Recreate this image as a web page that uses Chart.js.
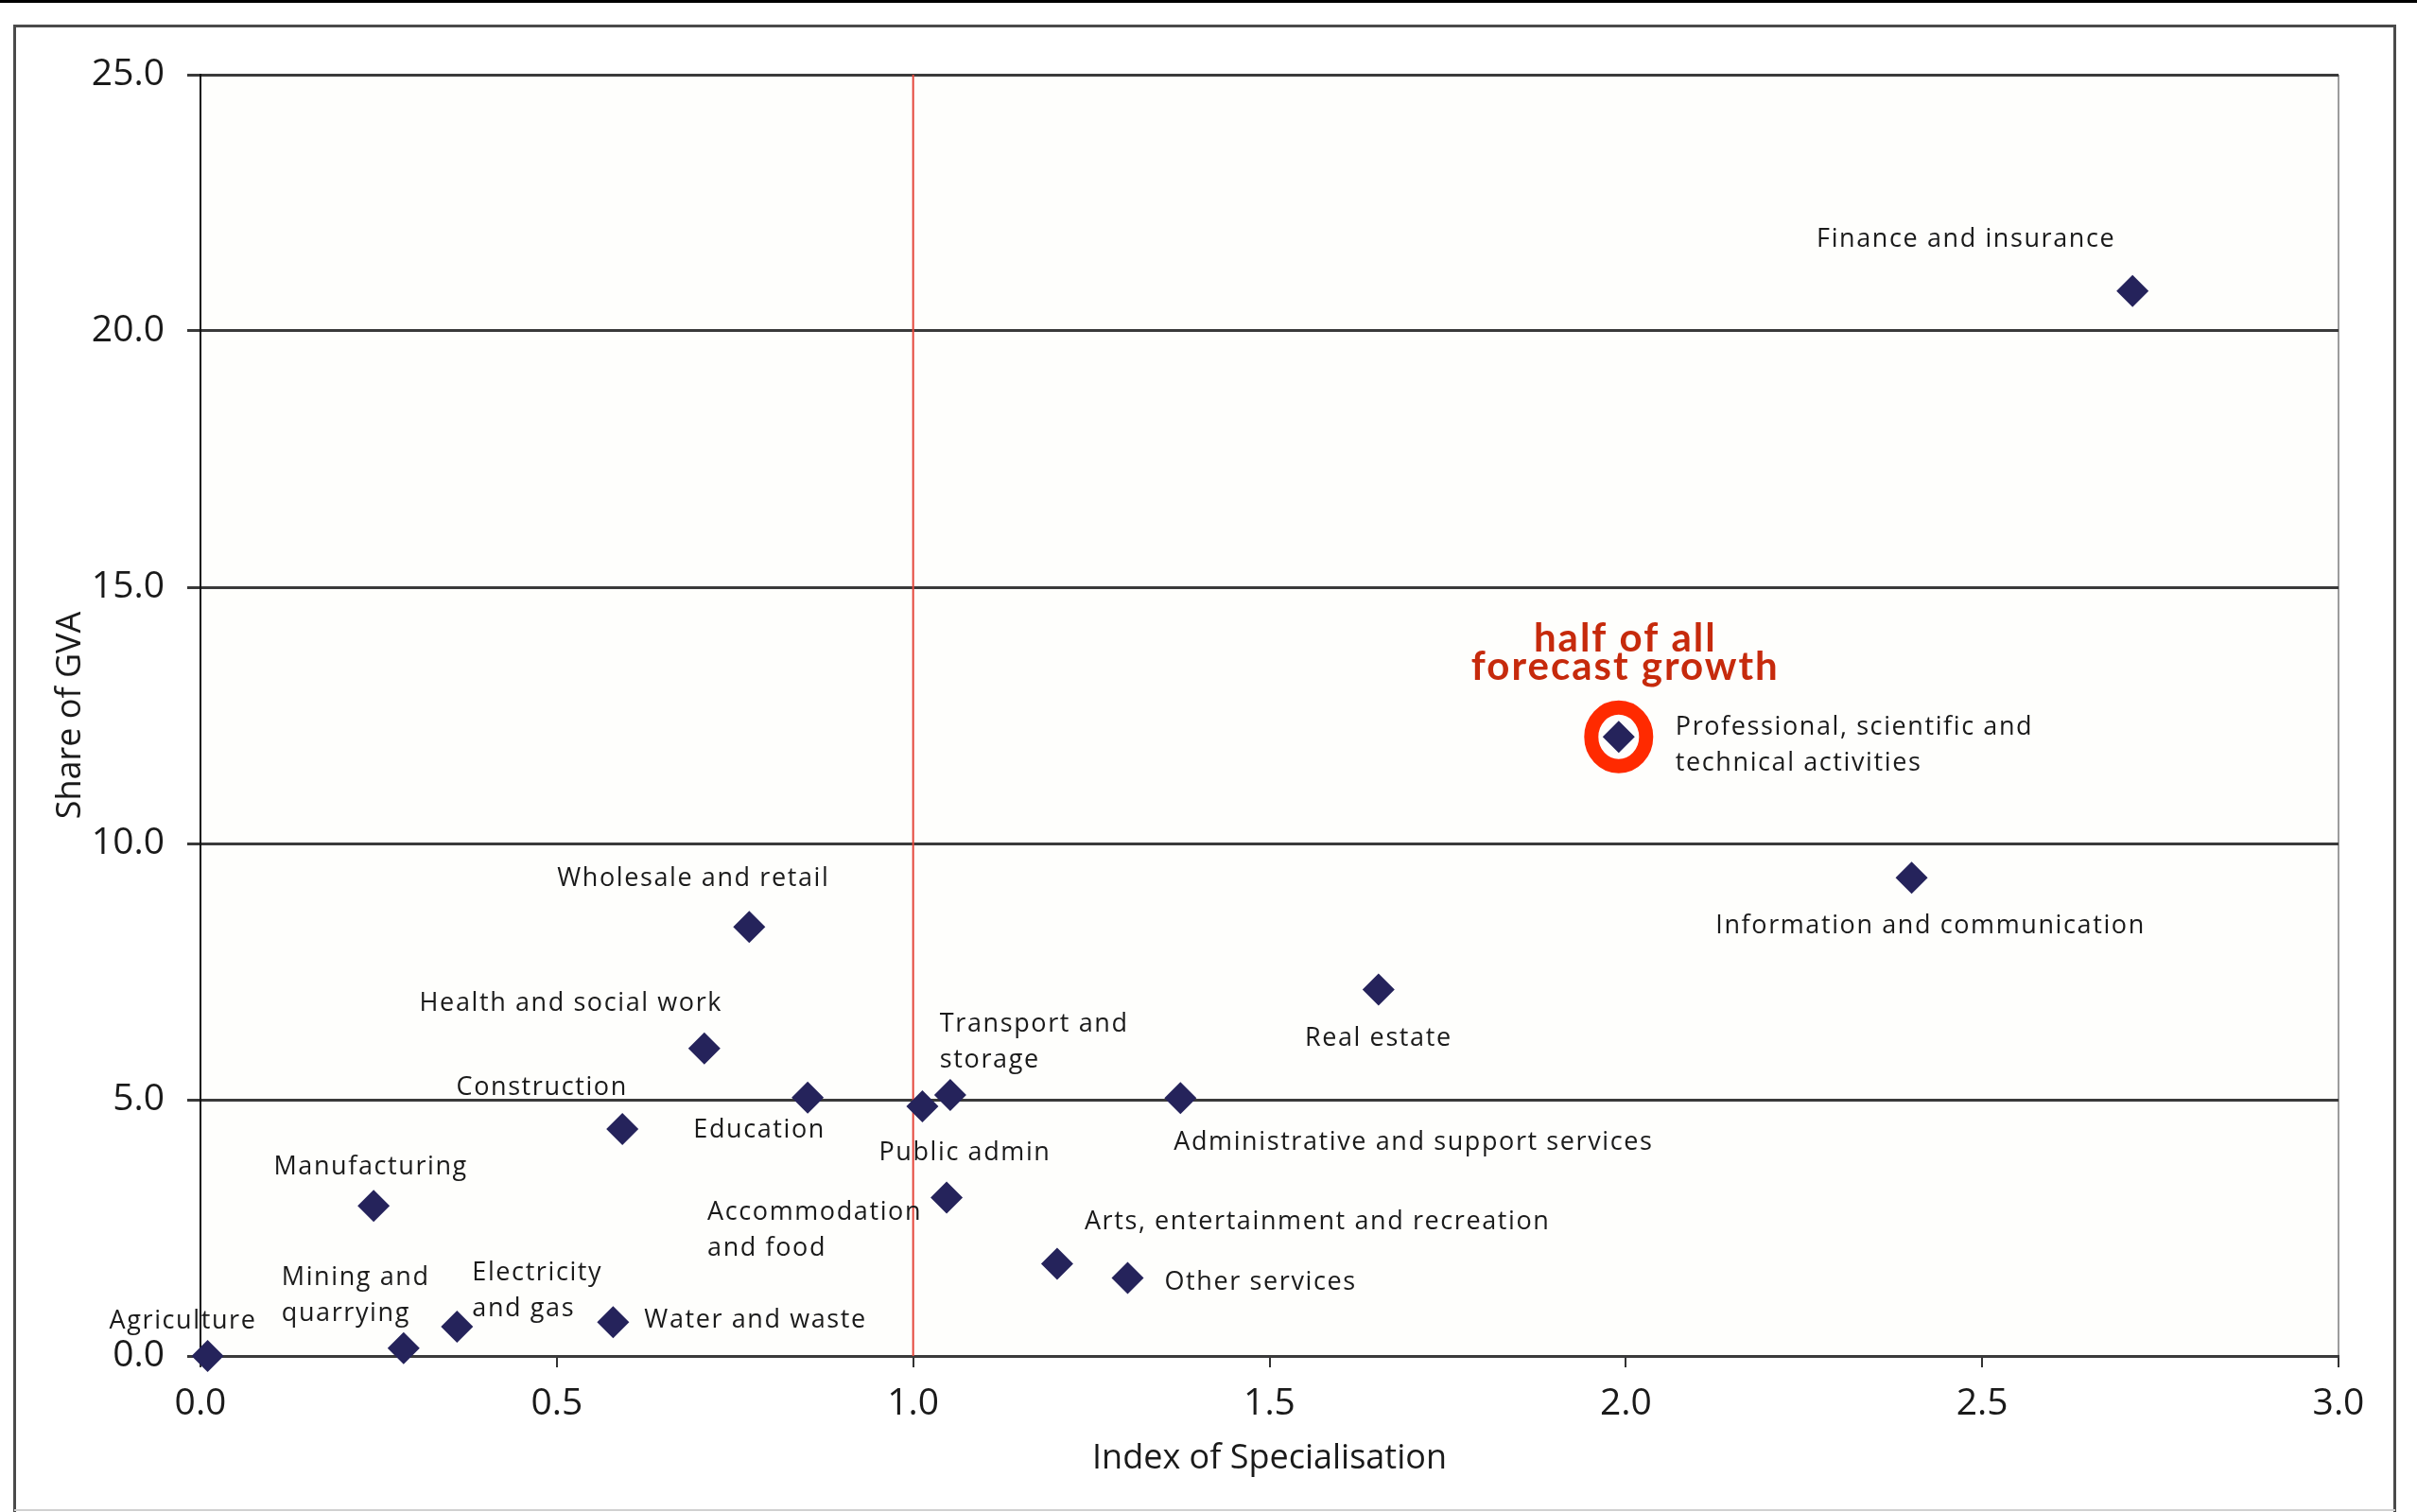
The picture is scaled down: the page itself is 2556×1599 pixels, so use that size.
<!DOCTYPE html>
<html><head><meta charset="utf-8">
<script src="https://cdn.jsdelivr.net/npm/chart.js@4.4.1/dist/chart.umd.min.js"></script>
<style>html,body{margin:0;padding:0;background:#fff;overflow:hidden}canvas{display:block}</style>
</head><body>
<canvas id="c" width="2556" height="1599" style="width:2556px;height:1599px"></canvas>
<script>
// ---- data ----
const categories = [
  'Agriculture',
  'Mining and quarrying',
  'Electricity and gas',
  'Water and waste',
  'Manufacturing',
  'Construction',
  'Health and social work',
  'Wholesale and retail',
  'Education',
  'Public admin',
  'Transport and storage',
  'Accommodation and food',
  'Arts, entertainment and recreation',
  'Other services',
  'Administrative and support services',
  'Real estate',
  'Professional, scientific and technical activities',
  'Information and communication',
  'Finance and insurance'
];
const indexOfSpecialisation = [0.01, 0.285, 0.36, 0.579, 0.243, 0.592, 0.707, 0.77, 0.852, 1.013, 1.052, 1.047, 1.202, 1.301, 1.375, 1.653, 1.99, 2.401, 2.711];
const shareOfGVA            = [0.0, 0.15, 0.57, 0.66, 2.93, 4.43, 6.0, 8.37, 5.04, 4.87, 5.09, 3.09, 1.8, 1.52, 5.03, 7.15, 12.08, 9.33, 20.78];
const xTickValues = [0, 0.5, 1.0, 1.5, 2.0, 2.5, 3.0];
const yTickValues = [0, 5, 10, 15, 20, 25];
const referenceIndex = 1.0;
const highlightedCategory = 'Professional, scientific and technical activities';
const highlightNote = ['half of all', 'forecast growth'];
const xAxisTitle = 'Index of Specialisation';
const yAxisTitle = 'Share of GVA';

// ---- label layout (pixel offsets from each point; style only) ----
const labelLayout = [
  {align: 'center', dx: -26,  dy: -37},
  {align: 'left',   dx: -129, dy: -75, split: 2},
  {align: 'left',   dx: 16,   dy: -57, split: 1},
  {align: 'left',   dx: 33,   dy: -2},
  {align: 'center', dx: -3,   dy: -41},
  {align: 'center', dx: -85,  dy: -44},
  {align: 'center', dx: -141, dy: -47},
  {align: 'center', dx: -59,  dy: -51},
  {align: 'center', dx: -51,  dy: 34},
  {align: 'center', dx: 45,   dy: 49},
  {align: 'left',   dx: -11,  dy: -75, split: 2},
  {align: 'left',   dx: -253, dy: 16,  split: 1},
  {align: 'left',   dx: 29,   dy: -44},
  {align: 'left',   dx: 39,   dy: 5},
  {align: 'left',   dx: -7,   dy: 47},
  {align: 'center', dx: 0,    dy: 52},
  {align: 'left',   dx: 60,   dy: -10, split: 3},
  {align: 'center', dx: 20,   dy: 51},
  {align: 'center', dx: -176, dy: -54}
];
const LINE_GAP = 38;

const framePlugin = {
  id: 'frame',
  beforeDraw(chart) {
    const {ctx, chartArea: a, width, height} = chart;
    ctx.save();
    ctx.fillStyle = '#ffffff';
    ctx.fillRect(0, 0, width, height);
    ctx.fillStyle = '#000000';
    ctx.fillRect(0, 0, width, 3);
    ctx.strokeStyle = '#4a4a4a';
    ctx.lineWidth = 3;
    ctx.beginPath();
    ctx.moveTo(15.5, height + 5);
    ctx.lineTo(15.5, 27.5);
    ctx.lineTo(2532.5, 27.5);
    ctx.lineTo(2532.5, height + 5);
    ctx.stroke();
    ctx.strokeStyle = '#d0d0d0';
    ctx.lineWidth = 2;
    ctx.beginPath();
    ctx.moveTo(15, height - 2);
    ctx.lineTo(2533, height - 2);
    ctx.stroke();
    ctx.fillStyle = '#fefefc';
    ctx.fillRect(a.left, a.top, a.right - a.left, a.bottom - a.top);
    ctx.strokeStyle = '#9c9c9c';
    ctx.lineWidth = 2;
    ctx.beginPath();
    ctx.moveTo(a.right, a.top);
    ctx.lineTo(a.right, a.bottom);
    ctx.stroke();
    ctx.restore();
  }
};

const labelPlugin = {
  id: 'pointLabels',
  afterDatasetsDraw(chart) {
    const meta = chart.getDatasetMeta(0);
    const ctx = chart.ctx;
    ctx.save();
    ctx.font = '27px "Open Sans"';
    try { ctx.letterSpacing = '1.6px'; } catch (e) {}
    ctx.fillStyle = '#1a1a1a';
    ctx.textBaseline = 'middle';
    categories.forEach((name, i) => {
      const el = meta.data[i];
      const L = labelLayout[i];
      const words = name.split(' ');
      const lines = L.split ? [words.slice(0, L.split).join(' '), words.slice(L.split).join(' ')] : [name];
      ctx.textAlign = L.align;
      lines.forEach((line, k) => ctx.fillText(line, el.x + L.dx, el.y + L.dy + k * LINE_GAP));
    });
    const hi = categories.indexOf(highlightedCategory);
    const p = meta.data[hi];
    ctx.strokeStyle = '#ff2a00';
    ctx.lineWidth = 15;
    ctx.beginPath();
    ctx.ellipse(p.x, p.y, 29, 31, 0, 0, Math.PI * 2);
    ctx.stroke();
    ctx.fillStyle = '#c62a0c';
    ctx.font = 'bold 42px Lato';
    try { ctx.letterSpacing = '2px'; } catch (e) {}
    ctx.textAlign = 'center';
    ctx.textBaseline = 'alphabetic';
    highlightNote.forEach((t, k) => ctx.fillText(t, p.x + 7, p.y - 90 + k * 30));
    ctx.restore();
  }
};

const tickFont = {family: 'Open Sans', size: 39};
const titleFont = {family: 'Open Sans', size: 36};

new Chart(document.getElementById('c'), {
  type: 'scatter',
  data: {
    datasets: [
      {
        label: 'Sectors',
        data: categories.map((c, i) => ({x: indexOfSpecialisation[i], y: shareOfGVA[i]})),
        pointStyle: 'rectRot',
        pointRadius: 17,
        pointHoverRadius: 17,
        backgroundColor: '#25235b',
        borderColor: '#25235b',
        borderWidth: 0,
        clip: false,
        order: 1
      },
      {
        type: 'line',
        label: 'Average',
        data: [{x: referenceIndex, y: yTickValues[0]}, {x: referenceIndex, y: yTickValues[yTickValues.length - 1]}],
        borderColor: '#e4473c',
        borderWidth: 2,
        pointRadius: 0,
        showLine: true,
        fill: false,
        order: 2
      }
    ]
  },
  options: {
    responsive: false,
    animation: false,
    devicePixelRatio: 1,
    layout: {padding: {left: 0, top: 79, right: 83, bottom: 0}},
    plugins: {legend: {display: false}, tooltip: {enabled: false}},
    scales: {
      x: {
        type: 'linear', min: 0, max: 3,
        afterBuildTicks(s) { s.ticks = xTickValues.map(v => ({value: v})); },
        afterFit(s) { s.height = 165; s.paddingLeft = 0; s.paddingRight = 0; },
        ticks: {callback: v => Number(v).toFixed(1), font: tickFont, color: '#1a1a1a', padding: 15, maxRotation: 0, autoSkip: false},
        grid: {drawOnChartArea: false, drawTicks: true, tickLength: 12, color: '#333333', lineWidth: 2},
        border: {display: true, color: '#3a3a3a', width: 3},
        title: {display: true, text: xAxisTitle, font: titleFont, color: '#1a1a1a', padding: {top: 0, bottom: 35}}
      },
      y: {
        type: 'linear', min: 0, max: 25,
        afterBuildTicks(s) { s.ticks = yTickValues.map(v => ({value: v})); },
        afterFit(s) { s.width = 212; s.paddingTop = 0; s.paddingBottom = 0; },
        ticks: {callback: v => Number(v).toFixed(1), font: tickFont, color: '#1a1a1a', padding: 24, autoSkip: false},
        grid: {color: '#3a3a3a', lineWidth: 3, tickLength: 14, drawTicks: true},
        border: {display: true, color: '#111111', width: 2},
        title: {display: true, text: yAxisTitle, font: titleFont, color: '#1a1a1a', padding: {top: 53, bottom: 0}}
      }
    }
  },
  plugins: [framePlugin, labelPlugin]
});
</script>
</body></html>
